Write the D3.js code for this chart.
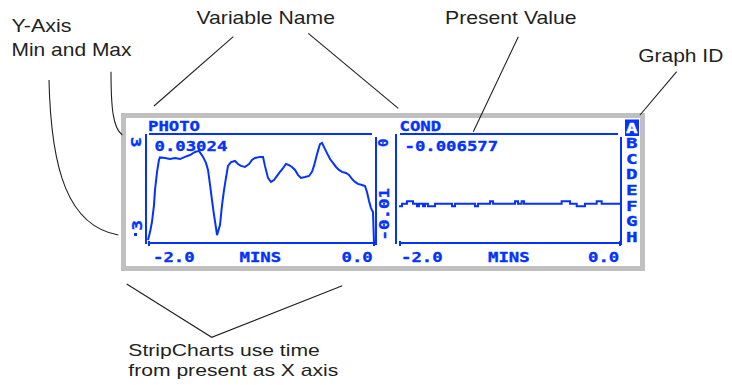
<!DOCTYPE html>
<html>
<head>
<meta charset="utf-8">
<script src="https://cdn.jsdelivr.net/npm/d3@7"></script>
<style>
  html, body { margin: 0; padding: 0; background: #fff; }
  svg { display: block; }
</style>
</head>
<body>
<svg id="chart" width="732" height="385"></svg>
<script>
// ---------------- data ----------------
const variableNames = ["PHOTO", "COND"];
const presentValues = ["0.03024", "-0.006577"];
const xTickLabels = ["-2.0", "MINS", "0.0"];
const graphIds = ["A", "B", "C", "D", "E", "F", "G", "H"];
const photoYLabels = ["3", "3"];
const condYLabels = ["0", "-0.01"];

// PHOTO strip chart (minutes from present, value)
const photoTime = [-2.000, -1.982, -1.965, -1.947, -1.938, -1.920, -1.903, -1.894, -1.850, -1.805,
  -1.761, -1.717, -1.673, -1.628, -1.584, -1.549, -1.513, -1.487, -1.469, -1.451,
  -1.434, -1.416, -1.398, -1.389, -1.363, -1.345, -1.327, -1.310, -1.292, -1.265,
  -1.230, -1.204, -1.177, -1.142, -1.106, -1.080, -1.053, -1.009, -0.982, -0.965,
  -0.938, -0.912, -0.885, -0.858, -0.832, -0.805, -0.779, -0.752, -0.726, -0.699,
  -0.673, -0.646, -0.611, -0.575, -0.549, -0.531, -0.513, -0.496, -0.478, -0.460,
  -0.442, -0.416, -0.389, -0.363, -0.336, -0.310, -0.283, -0.248, -0.221, -0.195,
  -0.168, -0.142, -0.106, -0.080, -0.062, -0.044, -0.027, -0.009, 0.000];
const photoValue = [0.0011, 0.0040, 0.0077, 0.0139, 0.0195, 0.0261, 0.0305, 0.0314, 0.0312, 0.0308,
  0.0312, 0.0308, 0.0316, 0.0323, 0.0334, 0.0338, 0.0316, 0.0294, 0.0268, 0.0213,
  0.0158, 0.0103, 0.0055, 0.0029, 0.0066, 0.0139, 0.0195, 0.0239, 0.0283, 0.0297,
  0.0301, 0.0290, 0.0283, 0.0279, 0.0290, 0.0305, 0.0312, 0.0316, 0.0316, 0.0283,
  0.0239, 0.0224, 0.0231, 0.0246, 0.0261, 0.0275, 0.0290, 0.0286, 0.0279, 0.0268,
  0.0250, 0.0239, 0.0242, 0.0246, 0.0261, 0.0283, 0.0312, 0.0338, 0.0363, 0.0367,
  0.0352, 0.0330, 0.0308, 0.0294, 0.0279, 0.0268, 0.0261, 0.0257, 0.0250, 0.0235,
  0.0224, 0.0217, 0.0213, 0.0209, 0.0187, 0.0154, 0.0128, 0.0114, 0.0000];

// COND strip chart (step data)
const condTime = [-2.000, -1.973, -1.928, -1.873, -1.837, -1.819, -1.783, -1.765, -1.738, -1.674,
  -1.520, -1.493, -1.312, -1.285, -1.176, -1.149, -0.950, -0.923, -0.890, -0.869,
  -0.528, -0.452, -0.392, -0.317, -0.211, -0.166, 0.000];
const condValue = [-0.00662, -0.00639, -0.00617, -0.00639, -0.00662, -0.00639, -0.00662, -0.00639, -0.00662, -0.00639,
  -0.00662, -0.00639, -0.00662, -0.00639, -0.00617, -0.00639, -0.00617, -0.00639, -0.00617, -0.00639,
  -0.00617, -0.00639, -0.00662, -0.00639, -0.00617, -0.00639, -0.00639];

// ---------------- drawing ----------------
const BLUE = "#0433ff";
const INK = "#231f20";
const svg = d3.select("#chart");
svg.append("rect").attr("width", 732).attr("height", 385).attr("fill", "#fff");

// screen frame
svg.append("rect")
  .attr("x", 123.5).attr("y", 115.5).attr("width", 519).attr("height", 153)
  .attr("fill", "#fff").attr("stroke", "#c0c0c0").attr("stroke-width", 5);

const monoFont = "'DejaVu Sans Mono', 'Liberation Mono', monospace";
const CW = 10.4;
function blueText(g, str, x, y, opts = {}) {
  const t = g.append("text")
    .attr("x", x).attr("y", y)
    .attr("font-family", monoFont).attr("font-weight", "bold")
    .attr("font-size", opts.size || 14.2)
    .attr("fill", opts.fill || BLUE)
    .attr("stroke", opts.fill || BLUE).attr("stroke-width", 0.35)
    .attr("textLength", opts.len || str.length * CW)
    .attr("lengthAdjust", "spacingAndGlyphs")
    .text(str);
  if (opts.transform) t.attr("transform", opts.transform);
  return t;
}

const yTop = 134, yBot = 243;
const panels = [
  { name: variableNames[0], value: presentValues[0], time: photoTime, vals: photoValue,
    x: d3.scaleLinear().domain([-2, 0]).range([148, 374]),
    y: d3.scaleLinear().domain([0, 0.04]).range([yBot, yTop]),
    left: 146, right: 375.5, curve: d3.curveLinear,
    nameX: 148, valX: 154.5, tickX: [153, 239.5, 341.5] },
  { name: variableNames[1], value: presentValues[1], time: condTime, vals: condValue,
    x: d3.scaleLinear().domain([-2, 0]).range([399, 620]),
    y: d3.scaleLinear().domain([-0.01, 0]).range([yBot, yTop]),
    left: 396, right: 621, curve: d3.curveStepAfter,
    nameX: 399.5, valX: 404.5, tickX: [401, 488, 588] }
];

panels.forEach(p => {
  const g = svg.append("g");
  const [x0, x1] = p.x.range();
  const [yb, yt] = p.y.range();
  const line = (a, b, c, d) => g.append("line")
    .attr("x1", a).attr("y1", b).attr("x2", c).attr("y2", d)
    .attr("stroke", BLUE).attr("stroke-width", 2).attr("shape-rendering", "crispEdges");
  // box
  line(x0 + 1, yt + 0.3, x1 - 2, yt + 0.3);          // top
  line(p.left, yt, p.left, yb + 0.5);                 // left
  line(p.right, yt + 3, p.right, yb + 2);             // right
  line(x0 + 1, yb, x1, yb);                           // bottom
  line(x0 + 1, yb - 2, x0 + 1, yb + 2.5);             // end ticks
  line(x1, yb - 2, x1, yb + 2.5);

  // series
  const pts = p.time.map((t, i) => [t, p.vals[i]]);
  g.append("path")
    .datum(pts)
    .attr("fill", "none").attr("stroke", BLUE).attr("stroke-width", 2)
    .attr("stroke-linejoin", "miter")
    .attr("d", d3.line().x(d => p.x(d[0])).y(d => p.y(d[1])).curve(p.curve));

  // labels
  blueText(g, p.name, p.nameX, 130.5);
  blueText(g, p.value, p.valX, 150.5);
  xTickLabels.forEach((s, i) => blueText(g, s, p.tickX[i], 261.7));
});

// y min / max labels (rotated, partly hidden by the screen edge)
blueText(svg, photoYLabels[0], 0, 0, { len: CW, transform: "translate(130.5,137) rotate(90)" });
blueText(svg, photoYLabels[1], 0, 0, { len: CW, transform: "translate(141.7,230.5) rotate(-90)" });
svg.append("rect").attr("x", 134).attr("y", 233).attr("width", 3).attr("height", 3).attr("fill", BLUE);
blueText(svg, condYLabels[0], 0, 0, { len: CW * 0.8, transform: "translate(388,147) rotate(-90)" });
blueText(svg, condYLabels[1], 0, 0, { len: 52.5, transform: "translate(388.5,240.5) rotate(-90)" });

// graph id column (one text element, one tspan per id)
const idY = d3.scalePoint().domain(graphIds).range([132.8, 241.6]);
svg.append("rect").attr("x", 625).attr("y", 119.5).attr("width", 14).attr("height", 16.5).attr("fill", BLUE);
const idText = svg.append("text")
  .attr("font-family", monoFont).attr("font-weight", "bold").attr("font-size", 14.6);
graphIds.forEach((id, i) => {
  const c = i === 0 ? "#fff" : BLUE;
  idText.append("tspan")
    .attr("x", 626).attr("y", idY(id))
    .attr("fill", c).attr("stroke", c).attr("stroke-width", 0.35)
    .attr("textLength", 11.6).attr("lengthAdjust", "spacingAndGlyphs")
    .text(id);
});

// ---------------- annotations ----------------
const sansFont = "'Liberation Sans', Arial, Helvetica, sans-serif";
const notes = [
  [{ t: "Y-Axis", x: 11.5, y: 32.3, w: 60, s: 18.5 }, { t: "Min and Max", x: 11.5, y: 56, w: 120, s: 18.5 }],
  [{ t: "Variable Name", x: 196.5, y: 24, w: 138.5, s: 18.5 }],
  [{ t: "Present Value", x: 445, y: 24, w: 131.5, s: 18.5 }],
  [{ t: "Graph ID", x: 638.3, y: 61.7, w: 85, s: 18.5 }],
  [{ t: "StripCharts use time", x: 128.3, y: 356.3, w: 191.5, s: 17 },
   { t: "from present as X axis", x: 128.3, y: 375.6, w: 210, s: 17 }]
];
notes.forEach(block => {
  const t = svg.append("text")
    .attr("font-family", sansFont).attr("fill", INK);
  block.forEach(n => t.append("tspan")
    .attr("x", n.x).attr("y", n.y).attr("font-size", n.s)
    .attr("textLength", n.w).attr("lengthAdjust", "spacingAndGlyphs")
    .text(n.t));
});

const leaders = [
  "M233.3,36.7 L154,106",
  "M308.3,33.3 L398.3,108.3",
  "M518.3,36.7 L473.3,131.7",
  "M676.7,71.7 L640,115",
  "M126.7,284 L211.7,337.3 L342.3,285.7",
  "M49,80 C51,170 68,226 118.3,235",
  "M111,71.7 C111,108 113,128 122.3,135"
];
leaders.forEach(d => svg.append("path").attr("d", d)
  .attr("fill", "none").attr("stroke", INK).attr("stroke-width", 1.1));
</script>
</body>
</html>
